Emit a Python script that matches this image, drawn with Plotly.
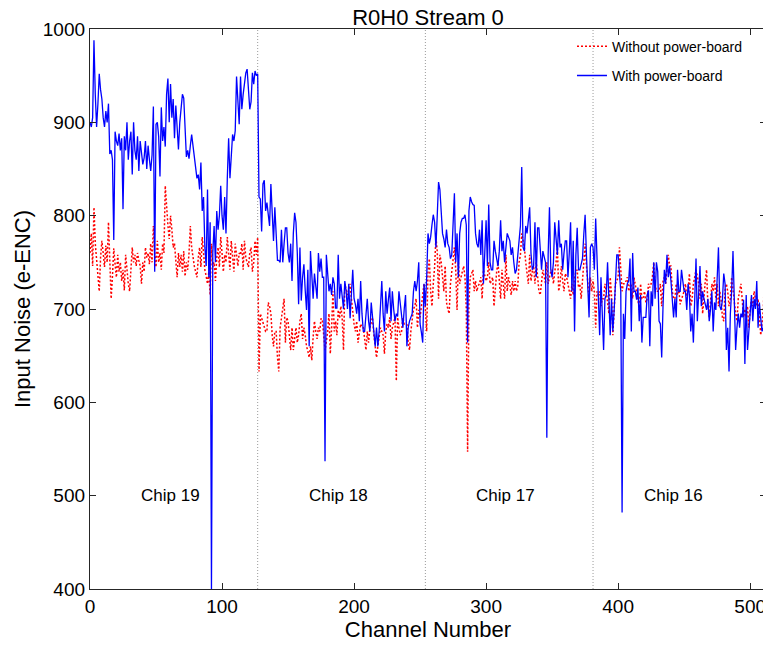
import plotly.graph_objects as go

# Input noise (e-ENC) per channel
with_pb = [
    900, 895, 905, 988, 930, 895, 920, 952, 935, 925, 905, 895, 912, 900, 920, 866,
    870, 860, 774, 890, 880, 875, 888, 870, 883, 807, 885, 870, 900, 860, 880, 890,
    844, 900, 870, 860, 885, 848, 880, 870, 855, 862, 880, 850, 875, 860, 848, 865,
    917, 740, 898, 900, 885, 842, 916, 880, 895, 874, 930, 947, 900, 941, 905, 925,
    883, 918, 887, 871, 900, 915, 930, 926, 890, 863, 870, 861, 875, 887, 875, 863,
    850, 840, 844, 828, 857, 805, 820, 766, 746, 828, 734, 793, 398, 760, 789, 750,
    805, 785, 800, 832, 800, 785, 820, 781, 840, 883, 840, 860, 887, 880, 891, 949,
    920, 898, 949, 914, 930, 945, 953, 957, 935, 914, 922, 953, 941, 955, 950, 952,
    820, 818, 783, 834, 838, 805, 814, 800, 789, 834, 810, 773, 809, 780, 752, 752,
    750, 785, 750, 770, 787, 787, 760, 750, 770, 730, 781, 803, 793, 760, 705, 766,
    709, 734, 748, 720, 699, 742, 660, 762, 740, 711, 738, 720, 711, 760, 740, 754,
    734, 734, 537, 758, 740, 719, 727, 715, 734, 727, 701, 701, 758, 711, 727, 711,
    700, 730, 719, 700, 727, 690, 719, 742, 711, 705, 695, 711, 687, 730, 695, 676,
    676, 690, 711, 687, 676, 707, 691, 676, 660, 680, 660, 676, 700, 730, 695, 676,
    719, 695, 710, 723, 687, 719, 700, 687, 695, 692, 719, 707, 695, 680, 700, 715,
    660, 680, 687, 691, 695, 719, 730, 719, 730, 750, 684, 675, 664, 727, 703, 734,
    781, 770, 777, 790, 801, 793, 766, 800, 836, 828, 800, 781, 775, 766, 785, 770,
    766, 754, 758, 790, 824, 750, 781, 734, 781, 793, 797, 797, 801, 790, 664, 805,
    820, 815, 812, 811, 781, 770, 766, 785, 758, 795, 727, 760, 795, 746, 812, 750,
    742, 742, 773, 762, 755, 746, 762, 795, 762, 773, 750, 765, 781, 777, 773, 758,
    766, 750, 738, 742, 760, 773, 789, 852, 766, 762, 789, 781, 795, 809, 760, 742,
    746, 793, 734, 787, 787, 760, 742, 762, 755, 750, 562, 758, 809, 742, 734, 750,
    793, 770, 758, 795, 766, 770, 742, 760, 773, 773, 734, 760, 793, 719, 773, 676,
    758, 787, 742, 742, 750, 754, 780, 801, 758, 720, 691, 766, 770, 766, 742, 797,
    760, 727, 672, 734, 700, 656, 711, 715, 750, 700, 672, 711, 676, 699, 730, 758,
    758, 734, 719, 482, 695, 668, 719, 727, 730, 754, 676, 760, 719, 719, 710, 723,
    687, 715, 664, 691, 691, 691, 715, 720, 660, 719, 703, 750, 711, 750, 740, 687,
    684, 648, 703, 742, 727, 758, 734, 746, 730, 711, 691, 711, 691, 742, 719, 719,
    742, 730, 719, 719, 699, 727, 715, 676, 695, 664, 720, 754, 687, 727, 746, 703,
    719, 711, 705, 699, 711, 687, 700, 719, 676, 707, 699, 740, 766, 703, 699, 710,
    738, 727, 656, 680, 633, 695, 720, 762, 703, 656, 680, 695, 680, 695, 691, 710,
    641, 715, 656, 680, 703, 715, 687, 711, 700, 730, 680, 707, 690, 676, 680, 740,
]

without_pb = [
    760, 781, 746, 809, 770, 750, 740, 719, 755, 773, 760, 745, 768, 750, 793, 740,
    711, 735, 765, 748, 734, 758, 740, 750, 730, 742, 720, 758, 740, 727, 719, 745,
    766, 750, 758, 746, 760, 752, 746, 727, 750, 740, 766, 755, 760, 748, 770, 750,
    789, 760, 745, 773, 750, 760, 742, 770, 760, 832, 805, 790, 775, 800, 785, 766,
    770, 750, 734, 760, 745, 758, 740, 762, 735, 750, 742, 760, 789, 766, 755, 746,
    740, 734, 755, 766, 745, 777, 760, 742, 735, 727, 740, 715, 770, 745, 750, 730,
    755, 766, 745, 777, 760, 740, 758, 750, 777, 760, 742, 773, 750, 740, 770, 755,
    746, 760, 758, 770, 742, 773, 755, 750, 745, 760, 766, 740, 750, 773, 758, 777,
    633, 695, 690, 687, 680, 676, 676, 707, 703, 695, 672, 660, 676, 676, 648, 633,
    680, 691, 700, 711, 664, 691, 687, 670, 656, 680, 656, 668, 680, 664, 672, 687,
    695, 668, 680, 672, 660, 655, 648, 660, 645, 670, 687, 676, 668, 680, 676, 690,
    687, 672, 656, 665, 676, 695, 652, 680, 719, 676, 687, 672, 699, 690, 703, 690,
    656, 727, 719, 715, 720, 727, 711, 695, 684, 676, 687, 664, 676, 684, 680, 680,
    668, 656, 676, 664, 680, 685, 691, 672, 660, 648, 660, 672, 680, 676, 672, 652,
    676, 684, 680, 691, 668, 680, 687, 691, 623, 691, 680, 672, 676, 691, 684, 684,
    684, 664, 656, 676, 691, 700, 703, 711, 680, 699, 691, 705, 719, 727, 700, 676,
    740, 754, 719, 703, 727, 745, 777, 762, 711, 758, 750, 735, 719, 746, 707, 700,
    695, 727, 738, 750, 766, 742, 699, 750, 727, 734, 740, 746, 734, 700, 547, 707,
    734, 738, 742, 719, 730, 719, 725, 727, 734, 711, 742, 736, 730, 734, 750, 727,
    730, 734, 703, 727, 740, 750, 727, 711, 742, 725, 711, 758, 719, 734, 727, 715,
    730, 719, 730, 719, 725, 750, 758, 781, 773, 766, 750, 734, 727, 758, 730, 740,
    746, 727, 750, 735, 719, 715, 727, 742, 735, 727, 750, 727, 734, 740, 742, 727,
    740, 750, 766, 719, 727, 746, 730, 719, 738, 734, 727, 720, 711, 727, 715, 734,
    740, 742, 723, 727, 711, 730, 750, 770, 746, 727, 711, 734, 719, 730, 719, 680,
    719, 715, 719, 703, 711, 711, 727, 719, 703, 695, 734, 715, 672, 695, 727, 730,
    734, 766, 742, 719, 727, 727, 730, 734, 719, 725, 727, 711, 734, 727, 719, 710,
    699, 727, 711, 711, 719, 707, 711, 727, 723, 727, 735, 750, 727, 719, 719, 719,
    727, 703, 730, 734, 727, 742, 758, 746, 746, 719, 711, 711, 727, 715, 720, 705,
    711, 715, 719, 727, 711, 719, 738, 703, 710, 727, 734, 742, 735, 727, 711, 727,
    695, 719, 730, 742, 703, 691, 715, 727, 719, 734, 711, 727, 703, 719, 710, 691,
    687, 720, 727, 719, 703, 711, 734, 719, 703, 695, 687, 711, 719, 727, 710, 691,
    700, 691, 703, 680, 700, 711, 703, 719, 710, 703, 711, 695, 672, 685, 699, 750,
]

channels_with = list(range(len(with_pb)))
channels_without = list(range(len(without_pb)))

chip_names = ["Chip 19", "Chip 18", "Chip 17", "Chip 16"]
chip_label_x = [61, 188, 315, 442]
chip_label_y = 500
chip_boundaries = [127, 254, 381]

x_ticks = [0, 100, 200, 300, 400, 500]
y_ticks = [400, 500, 600, 700, 800, 900, 1000]

FONT = "Liberation Sans, Arial, Helvetica, sans-serif"

fig = go.Figure()
fig.add_trace(go.Scatter(
    x=channels_without, y=without_pb, mode="lines", name="Without power-board",
    legendgroup="a",
    line=dict(color="#ff0000", width=1.5, dash="2px,2px"),
))
fig.add_trace(go.Scatter(
    x=channels_with, y=with_pb, mode="lines", name="With power-board",
    legendgroup="b",
    line=dict(color="#0000ff", width=1.3),
))

for b in chip_boundaries:
    fig.add_shape(type="line", xref="x", yref="paper", x0=b, x1=b, y0=0, y1=1,
                  line=dict(color="#9a9a9a", width=1, dash="1px,2px"), layer="below")

for name, cx in zip(chip_names, chip_label_x):
    fig.add_annotation(x=cx, y=chip_label_y, text=name, showarrow=False,
                       font=dict(family=FONT, size=17, color="black"))

# y-axis title placed as a rotated annotation
fig.add_annotation(xref="paper", yref="paper", x=-0.1006, y=0.5, xanchor="center", yanchor="middle",
                   text="Input Noise (e-ENC)", textangle=-90, showarrow=False,
                   font=dict(family=FONT, size=22, color="black"))

axis_common = dict(
    showgrid=False, zeroline=False, showline=True, linecolor="#262626", linewidth=1.3,
    mirror="ticks", ticks="inside", ticklen=6, tickwidth=1.1, tickcolor="#262626",
    tickfont=dict(family=FONT, size=19, color="black"), automargin=False,
)

# the page body adds an 8px offset, so the figure is 8px smaller than the window
fig.update_layout(
    width=763, height=640,
    margin=dict(l=82, r=5, t=21, b=59),
    paper_bgcolor="white", plot_bgcolor="white",
    title=dict(text="R0H0 Stream 0", xref="paper", x=0.5, xanchor="center",
               yref="container", y=0.997, yanchor="top",
               font=dict(family=FONT, size=22, color="black")),
    xaxis=dict(range=[0, 512], tickvals=x_ticks,
               title=dict(text="Channel Number", font=dict(family=FONT, size=22, color="black"), standoff=0),
               **axis_common),
    yaxis=dict(range=[400, 1000], tickvals=y_ticks, **axis_common),
    showlegend=True,
    legend=dict(x=0.713, xanchor="left", y=0.997, yanchor="top", bgcolor="rgba(0,0,0,0)",
                font=dict(family=FONT, size=14, color="black"), itemwidth=30,
                tracegroupgap=8, traceorder="grouped"),
)

fig.write_html("out.html")
